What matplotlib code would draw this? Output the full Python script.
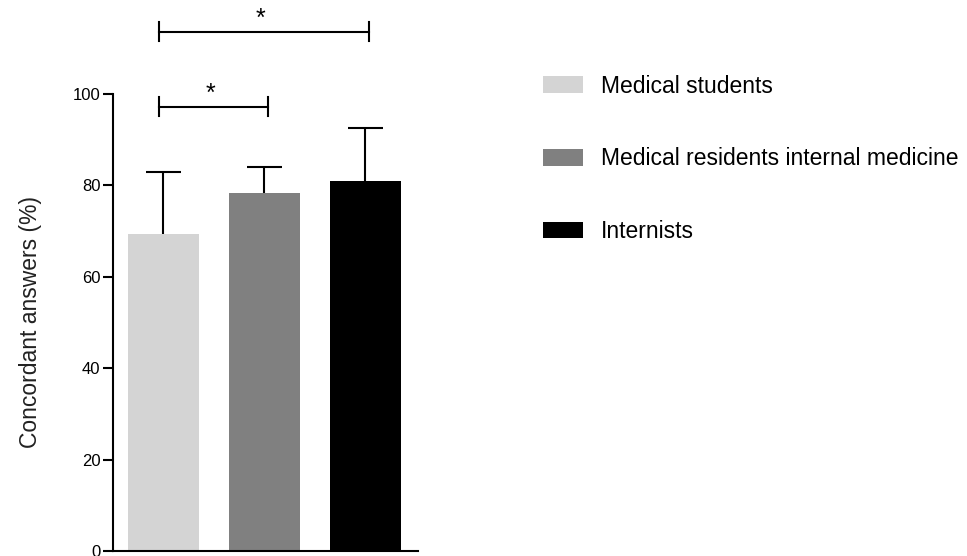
import matplotlib
matplotlib.use("Agg")
import matplotlib.pyplot as plt
from matplotlib.patches import Patch

plt.rcParams['font.family'] = ['Liberation Sans', 'DejaVu Sans']

groups = ["Medical students", "Medical residents internal medicine", "Internists"]
means = [69.4, 78.3, 81.0]
sd_upper = [13.5, 5.7, 11.6]
colors = ["#d4d4d4", "#808080", "#000000"]
yticks = [0, 20, 40, 60, 80, 100]

# significance brackets: (left group, right group, height, label)
brackets = [(0, 1, 97.2, "*"), (0, 2, 113.6, "*")]

W, H = 967, 556
fig = plt.figure(figsize=(W / 100, H / 100), dpi=100)
ax = fig.add_axes([113 / W, 5 / H, (418 - 113) / W, (551 - 94) / H])

x = list(range(len(groups)))
ax.bar(x, means, width=0.7, color=colors, zorder=2)

# one-sided (upper) error bars
cap = 0.17
tops = [m + s for m, s in zip(means, sd_upper)]
ax.vlines(x, means, tops, color='black', lw=1.5, zorder=1)
ax.hlines(tops, [xi - cap for xi in x], [xi + cap for xi in x],
          color='black', lw=1.5, zorder=1)

ax.set_xlim(-0.5, 2.52)
ax.set_ylim(0, 100)
ax.set_yticks(yticks)
ax.set_xticks([])
ax.tick_params(axis='y', length=7.5, width=1.5, labelsize=12, pad=1.5)
for s in ['top', 'right']:
    ax.spines[s].set_visible(False)
for s in ['left', 'bottom']:
    ax.spines[s].set_linewidth(1.5)
ax.set_ylabel("Concordant answers (%)", fontsize=16.5, labelpad=22, color='#222222')

for a, b, h, lab in brackets:
    xa, xb = a - 0.04, b + 0.03
    ax.plot([xa, xb], [h, h], color='black', lw=1.5, clip_on=False)
    for xx in (xa, xb):
        ax.plot([xx, xx], [h - 2.1, h + 2.1], color='black', lw=1.5, clip_on=False)
    ax.text((xa + xb) / 2 - 0.03, h + 0.3, lab, ha='center', va='bottom', fontsize=18,
            clip_on=False)

handles = [Patch(facecolor=c, edgecolor='none', label=g) for c, g in zip(colors, groups)]
fig.legend(handles=handles, loc='upper left', bbox_to_anchor=(522 / W, 1 - 54 / H),
           frameon=False, fontsize=16.5, handlelength=1.75, handleheight=0.75,
           labelspacing=2.17, handletextpad=0.8)

fig.savefig("out.png", dpi=100)
